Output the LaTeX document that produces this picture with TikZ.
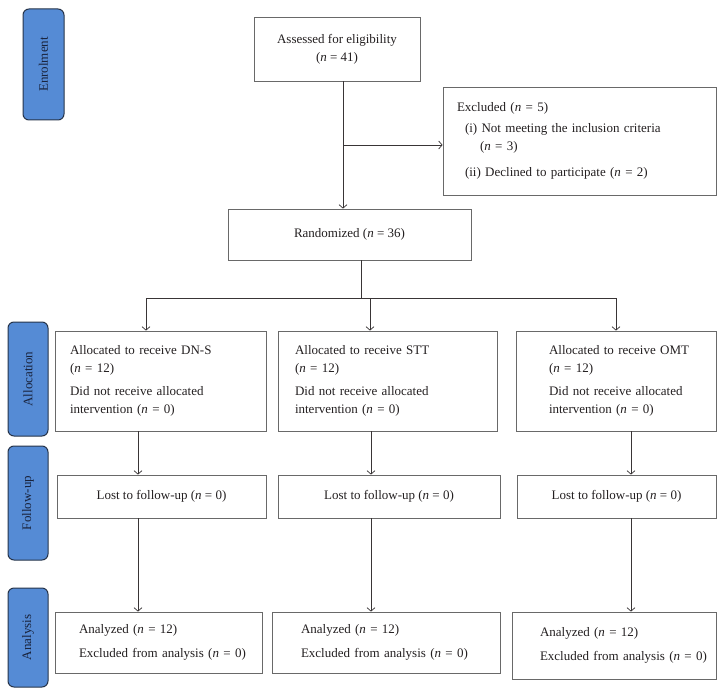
\documentclass[tikz,border=0pt]{standalone}
\usepackage{fontspec}
\setmainfont{Liberation Serif}
\usepackage{tikz}
\usetikzlibrary{arrows.meta}
\definecolor{tabblue}{RGB}{85,139,213}
\definecolor{tabline}{RGB}{38,52,74}
\definecolor{tabtext}{RGB}{25,35,60}
\definecolor{boxline}{RGB}{105,105,105}
\definecolor{ink}{RGB}{35,31,32}

\begin{document}
\begin{tikzpicture}
  [x=1pt,y=-1pt,>={Straight Barb[length=3.5pt,width=8pt]},
   every node/.style={font=\fontsize{13}{18}\selectfont,text=ink}]
 \tikzset{box/.style={draw=boxline,line width=.8pt,inner sep=0pt,align=center},
   lbox/.style={box,align=left,execute at begin node={\leftskip=#1}},
   tab/.style={draw=tabline,fill=tabblue,line width=1pt,rounded corners=6pt,
     rotate=90,inner sep=0pt,text=tabtext},
   link/.style={draw=ink!90,line width=.7pt}}
 \useasboundingbox (0,0) rectangle (725,695);
 % stage labels
 \node[tab,minimum width=111pt,minimum height=41pt] (tenrol) at (43.5,64.5) {Enrolment};
 \node[tab,minimum width=114pt,minimum height=40pt] (talloc) at (28,379) {Allocation};
 \node[tab,minimum width=114pt,minimum height=40pt] (tfollow) at (28,503) {Follow-up};
 \node[tab,minimum width=99pt,minimum height=40pt] (tana) at (28,637.5) {Analysis};

 % enrolment
 \node[box,minimum width=166pt,minimum height=64pt] (assess) at (337,49)
   {Assessed for eligibility\\(\textit{n} = 41)};
 \node[lbox=14pt,text width=273pt,minimum height=108pt] (excl) at (579.5,141)
   {Excluded (\textit{n} = 5)\\[3pt]
    \hspace*{8pt}(i) Not meeting the inclusion criteria\\
    \hspace*{23pt}(\textit{n} = 3)\\[8pt]
    \hspace*{8pt}(ii) Declined to participate (\textit{n} = 2)};
 \node[box,minimum width=243pt,minimum height=51pt] (rand) at (349.5,234.5)
   {Randomized (\textit{n} = 36)};

 % allocation
 \node[lbox=15pt,text width=211pt,minimum height=100pt] (alloc1) at (160.5,381)
   {Allocated to receive DN-S\\(\textit{n} = 12)\\[5pt]Did not receive allocated\\intervention (\textit{n} = 0)};
 \node[lbox=17pt,text width=219pt,minimum height=100pt] (alloc2) at (387.5,381)
   {Allocated to receive STT\\(\textit{n} = 12)\\[5pt]Did not receive allocated\\intervention (\textit{n} = 0)};
 \node[lbox=33pt,text width=200pt,minimum height=100pt] (alloc3) at (616,381)
   {Allocated to receive OMT\\(\textit{n} = 12)\\[5pt]Did not receive allocated\\intervention (\textit{n} = 0)};

 % follow-up
 \node[box,minimum width=209pt,minimum height=43pt] (lost1) at (161.5,496.5) {Lost to follow-up (\textit{n} = 0)};
 \node[box,minimum width=222pt,minimum height=43pt] (lost2) at (389,496.5) {Lost to follow-up (\textit{n} = 0)};
 \node[box,minimum width=199pt,minimum height=43pt] (lost3) at (616.5,496.5) {Lost to follow-up (\textit{n} = 0)};

 % analysis
 \node[lbox=24pt,text width=207pt,minimum height=61pt] (ana1) at (158.5,642.5)
   {Analyzed (\textit{n} = 12)\\[6pt]Excluded from analysis (\textit{n} = 0)};
 \node[lbox=29pt,text width=228pt,minimum height=61pt] (ana2) at (386,642.5)
   {Analyzed (\textit{n} = 12)\\[6pt]Excluded from analysis (\textit{n} = 0)};
 \node[lbox=28pt,text width=204pt,minimum height=67pt] (ana3) at (614,645.5)
   {Analyzed (\textit{n} = 12)\\[6pt]Excluded from analysis (\textit{n} = 0)};

 % connectors
 \coordinate (exj) at (343,145);
 \coordinate (split) at (361,298);
 \coordinate (b1) at (146,298);
 \coordinate (b2) at (370,298);
 \coordinate (b3) at (616,298);
 \coordinate (c1) at (138,0);
 \coordinate (c2) at (371,0);
 \coordinate (c3) at (631,0);
 \draw[link,->] (assess.south -| exj) -- (rand.north -| exj);
 \draw[link,->] (exj) -- (excl.west |- exj);
 \draw[link] (rand.south -| split) -- (split);
 \draw[link] (b1) -- (b3);
 \foreach \from/\to in {b1/alloc1,b2/alloc2,b3/alloc3}
    \draw[link,->] (\from) -- (\from |- \to.north);
 \foreach \i in {1,2,3}{
    \draw[link,->] (c\i |- alloc\i.south) -- (c\i |- lost\i.north);
    \draw[link,->] (c\i |- lost\i.south) -- (c\i |- ana\i.north);}

\end{tikzpicture}
\end{document}
